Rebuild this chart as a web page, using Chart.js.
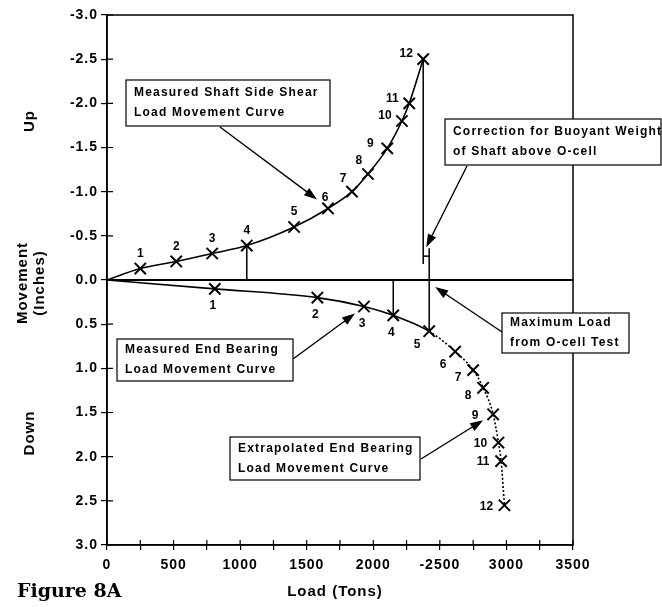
<!DOCTYPE html>
<html>
<head>
<meta charset="utf-8">
<script src="https://cdn.jsdelivr.net/npm/chart.js@4/dist/chart.umd.min.js"></script>
<style>
  html, body { margin: 0; padding: 0; background: #fff; }
</style>
</head>
<body>
<canvas id="grafico" width="662" height="607"></canvas>
<script>
// carga (tons) y movimiento (inches) por escalon, el 0 es el origen
const escalones = ['1', '2', '3', '4', '5', '6', '7', '8', '9', '10', '11', '12'];
const cargaFuste = [0, 250, 520, 790, 1050, 1405, 1660, 1840, 1960, 2105, 2215, 2270, 2375];
const movFuste = [0, -0.13, -0.21, -0.30, -0.39, -0.60, -0.81, -1.00, -1.20, -1.49, -1.80, -2.00, -2.50];
const cargaPunta = [0, 810, 1580, 1930, 2150, 2420, 2615, 2750, 2825, 2900, 2940, 2960, 2985];
const movPunta = [0, 0.10, 0.20, 0.30, 0.40, 0.58, 0.81, 1.02, 1.22, 1.52, 1.84, 2.05, 2.55];
// fin de la caida desde el 12, nivel de la correccion, tope de la linea de carga maxima
const correccion = [-0.18, -0.27, -0.36];
const ultimoMedido = 5; // despues de este escalon la punta es extrapolada

const limitesCarga = [0, 3500];
const limitesMov = [-3, 3];

const pt = (x, y) => ({ x: x, y: y });
const serie = (xs, ys) => xs.map((x, i) => pt(x, ys[i]));

const negro = '#000';
const fuente = '"Liberation Sans", Arial, sans-serif';

function guia(datos, ancho) {
    return {
        data: datos,
        showLine: true,
        borderColor: negro,
        borderWidth: ancho || 1.5,
        pointRadius: 0,
        pointHoverRadius: 0
    };
}

const curvaFuste = {
    data: serie(cargaFuste, movFuste),
    showLine: true,
    cubicInterpolationMode: 'monotone',
    borderColor: negro,
    borderWidth: 1.6,
    pointStyle: 'crossRot',
    pointRadius: ctx => ctx.dataIndex == 0 ? 0 : 8,
    pointBorderColor: negro,
    pointBorderWidth: 2
};

const curvaPunta = {
    data: serie(cargaPunta, movPunta),
    showLine: true,
    cubicInterpolationMode: 'monotone',
    borderColor: negro,
    borderWidth: 1.6,
    segment: {
        borderDash: ctx => ctx.p0DataIndex >= ultimoMedido ? [2, 2] : undefined
    },
    pointStyle: 'crossRot',
    pointRadius: ctx => ctx.dataIndex == 0 ? 0 : 8,
    pointBorderColor: negro,
    pointBorderWidth: 2
};

const datasets = [
    guia([pt(limitesCarga[0], 0), pt(limitesCarga[1], 0)], 1.8),
    guia([pt(cargaFuste[4], 0), pt(cargaFuste[4], movFuste[4])]),
    guia([pt(cargaPunta[4], 0), pt(cargaPunta[4], movPunta[4])]),
    guia([pt(cargaFuste[12], movFuste[12]), pt(cargaFuste[12], correccion[0])]),
    guia([pt(cargaFuste[12], correccion[1]), pt(cargaPunta[ultimoMedido], correccion[1])]),
    guia([pt(cargaPunta[ultimoMedido], correccion[2]), pt(cargaPunta[ultimoMedido], movPunta[ultimoMedido])]),
    curvaFuste,
    curvaPunta
];

// cajas de texto: posicion de la caja, punto de salida de la flecha y a que apunta
const cajas = [
    { x: 126, y: 80, w: 204, h: 46, texto: ['Measured Shaft Side Shear', 'Load Movement Curve'],
      desde: [220, 127], hacia: () => [cargaFuste[6], movFuste[6]], ajuste: [-11, -9] },
    { x: 445, y: 119, w: 216, h: 46, texto: ['Correction for Buoyant Weight', 'of Shaft above O-cell'],
      desde: [467, 166], hacia: () => [cargaPunta[ultimoMedido], correccion[2]], ajuste: [-3, -1] },
    { x: 117, y: 339, w: 176, h: 42, texto: ['Measured End Bearing', 'Load Movement Curve'],
      desde: [293, 359], hacia: () => [cargaPunta[3], movPunta[3]], ajuste: [-9, 7] },
    { x: 502, y: 313, w: 127, h: 40, texto: ['Maximum Load', 'from O-cell Test'],
      desde: [502, 332], hacia: () => [cargaPunta[ultimoMedido], 0], ajuste: [6, 7] },
    { x: 230, y: 437, w: 190, h: 43, texto: ['Extrapolated End Bearing', 'Load Movement Curve'],
      desde: [421, 459], hacia: () => [cargaPunta[9], movPunta[9]], ajuste: [-10, 6] }
];

function flecha(ctx, x1, y1, x2, y2) {
    const ang = Math.atan2(y2 - y1, x2 - x1);
    const c = Math.cos(ang), s = Math.sin(ang);
    ctx.beginPath();
    ctx.moveTo(x1, y1);
    ctx.lineTo(x2 - 8 * c, y2 - 8 * s);
    ctx.stroke();
    ctx.beginPath();
    ctx.moveTo(x2, y2);
    ctx.lineTo(x2 - 13 * c + 4.5 * s, y2 - 13 * s - 4.5 * c);
    ctx.lineTo(x2 - 13 * c - 4.5 * s, y2 - 13 * s + 4.5 * c);
    ctx.closePath();
    ctx.fill();
}

function textoVertical(ctx, texto, x, y) {
    ctx.save();
    ctx.translate(x, y);
    ctx.rotate(-Math.PI / 2);
    ctx.fillText(texto, 0, 0);
    ctx.restore();
}

// desplazamiento del numero respecto a su cruz
function ajusteFuste(i) {
    if (i <= 5) return [0, -15];
    if (i == 6) return [-3, -11];
    if (i <= 8) return [-9, -13];
    return [-17, -5];
}
function ajustePunta(i) {
    if (i <= 4) return [-2, 17];
    if (i <= 6) return [-12, 13];
    if (i <= 8) return [-15, 8];
    return [-18, 1];
}

const marco = {
    id: 'marco',
    beforeDraw(chart) {
        chart.ctx.letterSpacing = '1px';
    },
    afterDatasetsDraw(chart) {
        const ctx = chart.ctx;
        const area = chart.chartArea;
        const sx = chart.scales.x, sy = chart.scales.y;
        ctx.save();
        ctx.strokeStyle = negro;
        ctx.fillStyle = negro;

        // marco de arriba y derecha
        ctx.lineWidth = 1.5;
        ctx.strokeRect(area.left, area.top, area.right - area.left, area.bottom - area.top);

        // marcas hacia adentro de los ejes
        ctx.lineWidth = 1.2;
        ctx.beginPath();
        sx.ticks.forEach(t => {
            const px = sx.getPixelForValue(t.value);
            ctx.moveTo(px, area.bottom);
            ctx.lineTo(px, area.bottom - 5);
        });
        sy.ticks.forEach(t => {
            const py = sy.getPixelForValue(t.value);
            ctx.moveTo(area.left, py);
            ctx.lineTo(area.left + 6, py);
        });
        ctx.stroke();

        // numeros de escalon
        ctx.letterSpacing = '0px';
        ctx.font = 'bold 12px ' + fuente;
        ctx.textAlign = 'center';
        ctx.textBaseline = 'middle';
        const metaFuste = chart.getDatasetMeta(6).data;
        const metaPunta = chart.getDatasetMeta(7).data;
        escalones.forEach((txt, k) => {
            const i = k + 1;
            let p = metaFuste[i];
            let d = ajusteFuste(i);
            ctx.fillText(txt, p.x + d[0], p.y + d[1]);
            p = metaPunta[i];
            d = ajustePunta(i);
            ctx.fillText(txt, p.x + d[0], p.y + d[1]);
        });

        // cajas y flechas
        ctx.font = 'bold 12px ' + fuente;
        ctx.letterSpacing = '1.2px';
        ctx.textAlign = 'left';
        cajas.forEach(c => {
            ctx.fillStyle = '#fff';
            ctx.fillRect(c.x, c.y, c.w, c.h);
            ctx.fillStyle = negro;
            ctx.lineWidth = 1.2;
            ctx.strokeRect(c.x, c.y, c.w, c.h);
            const medio = c.y + c.h / 2;
            ctx.fillText(c.texto[0], c.x + 8, medio - 10);
            ctx.fillText(c.texto[1], c.x + 8, medio + 10);
            const v = c.hacia();
            const tx = sx.getPixelForValue(v[0]) + c.ajuste[0];
            const ty = sy.getPixelForValue(v[1]) + c.ajuste[1];
            ctx.lineWidth = 1.4;
            flecha(ctx, c.desde[0], c.desde[1], tx, ty);
        });

        // titulos
        ctx.font = 'bold 15px ' + fuente;
        ctx.letterSpacing = '1px';
        ctx.textAlign = 'center';
        textoVertical(ctx, 'Up', 30, 121);
        textoVertical(ctx, 'Movement', 23, 283);
        textoVertical(ctx, '(Inches)', 40, 283);
        textoVertical(ctx, 'Down', 30, 433);
        ctx.fillText('Load (Tons)', 335, 592);

        ctx.font = 'bold 19px "DejaVu Serif", serif';
        ctx.letterSpacing = '0px';
        ctx.textAlign = 'left';
        ctx.fillText('Figure 8A', 17, 592);
        ctx.restore();
    }
};

const ticksFont = { family: fuente, size: 14, weight: 'bold' };

const grafico = new Chart(document.getElementById('grafico'), {
    type: 'scatter',
    data: { datasets: datasets },
    options: {
        responsive: false,
        animation: false,
        devicePixelRatio: 1,
        layout: { padding: { top: 15, right: 89, left: 0, bottom: 0 } },
        plugins: {
            legend: { display: false },
            tooltip: { enabled: false }
        },
        scales: {
            x: {
                type: 'linear',
                min: limitesCarga[0],
                max: limitesCarga[1],
                afterFit: s => { s.height = 62; },
                border: { color: negro, width: 1.6 },
                grid: { drawOnChartArea: false, tickLength: 5, color: negro, lineWidth: 1.2 },
                ticks: {
                    stepSize: 250,
                    autoSkip: false,
                    maxRotation: 0,
                    padding: 7,
                    color: negro,
                    font: ticksFont,
                    callback: v => v % 500 == 0 ? (v == 2500 ? '-2500' : String(v)) : ''
                }
            },
            y: {
                type: 'linear',
                reverse: true,
                min: limitesMov[0],
                max: limitesMov[1],
                afterFit: s => { s.width = 107; },
                border: { color: negro, width: 1.6 },
                grid: { drawOnChartArea: false, tickLength: 6, color: negro, lineWidth: 1.2 },
                ticks: {
                    stepSize: 0.5,
                    autoSkip: false,
                    padding: 3,
                    color: negro,
                    font: ticksFont,
                    callback: v => (Math.abs(v) < 1e-9 ? 0 : v).toFixed(1)
                }
            }
        }
    },
    plugins: [marco]
});
</script>
</body>
</html>
